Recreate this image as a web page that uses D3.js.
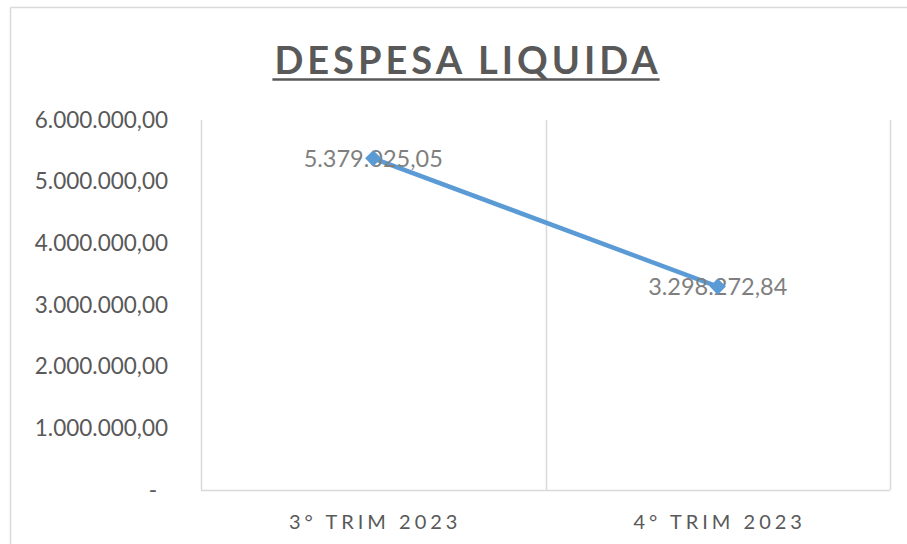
<!DOCTYPE html>
<html>
<head>
<meta charset="utf-8">
<script src="https://cdn.jsdelivr.net/npm/d3@7"></script>
<style>
body{margin:0;background:#fff;}
text{font-family:Lato,"Open Sans",sans-serif;}
</style>
</head>
<body>
<div id="chart"></div>
<script>
var categories = ["3° TRIM 2023", "4° TRIM 2023"];
var values = [5379025.05, 3298272.84];
var y_ticks = [0, 1000000, 2000000, 3000000, 4000000, 5000000, 6000000];
var chart_title = "DESPESA LIQUIDA";

var width = 907, height = 544;
var margin = {left:201, right:17, top:120, bottom:54};

var svg = d3.select("#chart").append("svg")
			.attr("width",width)
			.attr("height",height);

// borda externa do grafico
svg.append("line").attr("x1",10.5).attr("y1",7.5).attr("x2",width).attr("y2",7.5)
   .attr("stroke","#d9d9d9").attr("stroke-width",1.5);
svg.append("line").attr("x1",10.5).attr("y1",7.5).attr("x2",10.5).attr("y2",height)
   .attr("stroke","#d9d9d9").attr("stroke-width",1.5);

var x = d3.scaleBand()
		  .domain(categories)
		  .range([margin.left, width - margin.right])
		  .paddingInner(0).paddingOuter(0);

var y = d3.scaleLinear()
		  .domain([0, 6000000])
		  .range([height - margin.bottom, margin.top]);

function fmt_br(v){
	var s = d3.format(",.2f")(v);
	return s.replace(/,/g,"#").replace(/\./g,",").replace(/#/g,".");
}

// linhas verticais nos limites das categorias
var bounds = categories.map(function(c){ return x(c); });
bounds.push(x(categories[categories.length-1]) + x.bandwidth());
svg.selectAll(".vgrid")
   .data(bounds)
   .enter()
   .append("line")
   .attr("class","vgrid")
   .attr("x1",function(d){ return Math.round(d)+0.5; })
   .attr("x2",function(d){ return Math.round(d)+0.5; })
   .attr("y1",y(6000000))
   .attr("y2",y(0))
   .attr("stroke","#d9d9d9")
   .attr("stroke-width",1.5);

// eixo x
svg.append("line")
   .attr("x1",x.range()[0]).attr("x2",x.range()[1])
   .attr("y1",y(0)+0.5).attr("y2",y(0)+0.5)
   .attr("stroke","#d9d9d9").attr("stroke-width",1.5);

// eixo y (so os rotulos)
var yAxis = d3.axisLeft(y)
			  .tickValues(y_ticks)
			  .tickSize(0)
			  .tickPadding(33)
			  .tickFormat(function(d){ return d === 0 ? "-" : fmt_br(d); });
var gy = svg.append("g")
			.attr("transform","translate(" + margin.left + ",0)")
			.call(yAxis);
gy.select(".domain").remove();
gy.selectAll("text")
  .attr("fill","#595959")
  .attr("dx",function(d){ return d === 0 ? -11 : 0; })
  .style("font-size","22.5px");

// rotulos do eixo x
var ls_x = 4;
svg.selectAll(".xlab")
   .data(categories)
   .enter()
   .append("text")
   .attr("class","xlab")
   .attr("x",function(d){ return x(d) + x.bandwidth()/2 + ls_x/2; })
   .attr("y",529)
   .attr("text-anchor","middle")
   .attr("fill","#595959")
   .style("font-size","20px")
   .style("letter-spacing",ls_x + "px")
   .text(function(d){ return d; });

// titulo
var ls_t = 4;
var title = svg.append("text")
			   .attr("x",466 + ls_t/2)
			   .attr("y",74)
			   .attr("text-anchor","middle")
			   .attr("fill","#595959")
			   .style("font-size","38px")
			   .style("font-weight","bold")
			   .style("letter-spacing",ls_t + "px")
			   .text(chart_title);
var tw = title.node().getComputedTextLength() - ls_t;
svg.append("line")
   .attr("x1",466 - tw/2 - 2).attr("x2",466 + tw/2 + 2)
   .attr("y1",79.5).attr("y2",79.5)
   .attr("stroke","#595959").attr("stroke-width",2.5);

// linha da serie
var line = d3.line()
			 .x(function(d,i){ return x(categories[i]) + x.bandwidth()/2; })
			 .y(function(d){ return y(d); });

svg.append("path")
   .datum(values)
   .attr("d",line)
   .attr("fill","none")
   .attr("stroke","#5b9bd5")
   .attr("stroke-width",4.5)
   .attr("stroke-linecap","round");

// rotulos de dados (centro)
svg.selectAll(".dlab")
   .data(values)
   .enter()
   .append("text")
   .attr("class","dlab")
   .attr("x",function(d,i){ return x(categories[i]) + x.bandwidth()/2; })
   .attr("y",function(d){ return y(d) + 8.5; })
   .attr("text-anchor","middle")
   .attr("fill","#7f7f7f")
   .style("font-size","23.5px")
   .text(function(d){ return fmt_br(d); });

// marcadores losango
svg.selectAll(".mk")
   .data(values)
   .enter()
   .append("path")
   .attr("class","mk")
   .attr("d",d3.symbol().type(d3.symbolDiamond2).size(170))
   .attr("transform",function(d,i){
   		return "translate(" + (x(categories[i]) + x.bandwidth()/2) + "," + y(d) + ")";
   })
   .attr("fill","#5b9bd5");
</script>
</body>
</html>
